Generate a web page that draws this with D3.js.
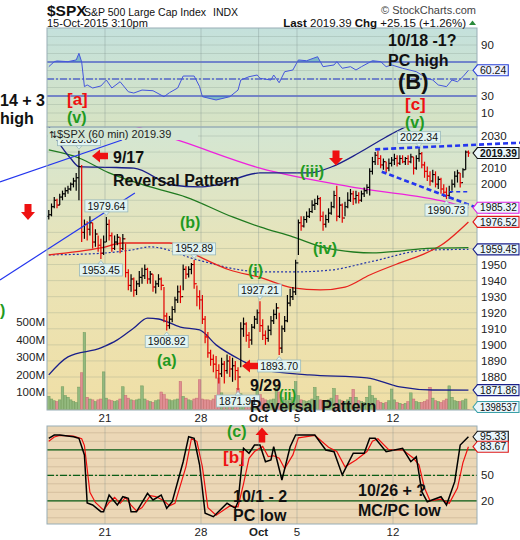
<!DOCTYPE html>
<html><head><meta charset="utf-8">
<script src="https://cdn.jsdelivr.net/npm/d3@7"></script>
<style>body{margin:0;background:#fff}svg{display:block;font-family:"Liberation Sans",Arial,sans-serif}</style>
</head><body><svg id="c" width="520" height="540"></svg>
<script>
// ---------------- DATA ----------------
// 60-min bars, 16-Sep-2015 .. 15-Oct-2015 (7 bars per day, 22 days)
const highs = [
 1984,1988,1992,1991,1994,1996,1998,
 1999,2001,2004,2007,2020.86,2012,1978,
 1977,1980,1976,1972,1968,1966,1968,
 1979.64,1978,1970,1968,1969,1967,1969,
 1963,1947,1944,1942,1940,1946,1948,
 1950,1948,1946,1944,1940,1944,1942,
 1936,1920,1918,1924,1930,1937,1937,
 1950,1949,1949,1951,1952.89,1937,1934,
 1931,1918,1908,1897,1894,1893,1888,
 1892,1890,1894,1893,1892,1890,1886,
 1914,1917,1914,1908,1913,1918,1922,
 1927.21,1916,1909,1912,1918,1922,1926,
 1920,1912,1918,1931,1935,1936,1953,
 1978,1980,1980,1983,1985,1990,1991,
 1993,1992,1983,1981,1985,1989,1996,
 1999,1992,1988,1989,1995,1997,1996,
 1996,1995,1996,1998,2000,2010,2017,
 2020,2021,2018,2016,2014,2016,2017,
 2019,2018,2018,2018,2017,2018,2019,
 2017,2018,2022.34,2020,2014,2011,2008,
 2009,2008,2005,2004,2000,1998,1999,
 2003,2008,2009,2007,2010,2021,2021];
const lows = [
 1978,1980,1985,1985,1987,1990,1992,
 1994,1996,1998,1996,1990,1964,1966,
 1965,1968,1960,1961,1958,1953.45,1956,
 1964,1965,1958,1959,1962,1957,1959,
 1942,1934,1933,1930,1931,1936,1938,
 1941,1938,1938,1933,1932,1936,1934,
 1914,1908.92,1910,1914,1920,1926,1926,
 1934,1941,1942,1944,1935,1924,1922,
 1913,1901,1892,1887,1883,1879,1876,
 1880,1876,1882,1880,1877,1878,1871.91,
 1886,1905,1902,1898,1900,1910,1913,
 1908,1903,1900,1902,1906,1913,1916,
 1893.70,1895,1908,1914,1924,1928,1931,
 1956,1971,1973,1976,1979,1982,1984,
 1987,1977,1971,1973,1976,1981,1985,
 1977,1979,1976,1980,1985,1989,1987,
 1988,1988,1989,1992,1994,1993,2006,
 2012,2012,2010,2009,2007,2008,2011,
 2012,2011,2012,2013,2012,2012,2013,
 2006,2009,2014,2010,2004,2002,1999,
 2001,1998,1997,1994,1992,1990.73,1991,
 1996,1998,2001,1998,2004,2009,2017];
const closes = [
 1981,1986,1990,1987,1992,1994,1996,
 1997,2000,2002,2004,2011,1970,1975,
 1972,1976,1964,1969,1962,1957,1964,
 1975,1968,1960,1964,1967,1960,1966,
 1945,1937,1941,1934,1938,1942,1943,
 1947,1941,1944,1936,1938,1941,1937,
 1918,1912,1916,1922,1928,1933,1930,
 1947,1944,1947,1950,1938,1930,1928,
 1916,1905,1895,1891,1888,1884,1882,
 1888,1884,1890,1885,1887,1884,1880,
 1910,1913,1906,1903,1911,1916,1920,
 1912,1906,1904,1909,1915,1919,1923,
 1898,1910,1915,1926,1930,1933,1951,
 1976,1974,1978,1980,1983,1987,1988,
 1991,1980,1975,1978,1982,1986,1993,
 1980,1987,1979,1986,1990,1994,1991,
 1993,1990,1994,1996,1998,2008,2014,
 2018,2016,2012,2014,2010,2013,2015,
 2016,2013,2016,2014,2016,2014,2017,
 2010,2016,2019,2012,2008,2005,2002,
 2006,2000,2003,1997,1995,1993,1995,
 2000,2005,2007,2001,2009,2020,2019.39];
const firstOpen = 1980;
// volume, millions of shares
const volumes = [
 75,60,50,45,55,130,80,
 70,55,45,40,128,210,440,
 70,60,55,45,55,60,215,
 65,55,50,45,50,60,130,
 80,65,55,50,55,60,135,
 60,50,45,40,50,55,100,
 85,60,55,50,55,60,160,
 75,65,55,50,60,65,170,
 60,55,55,50,60,80,180,
 95,70,60,55,60,70,120,
 90,60,50,45,50,60,140,
 85,65,55,50,55,60,135,
 100,70,55,50,60,70,159,
 80,55,50,45,50,60,126,
 75,55,50,45,55,65,120,
 80,55,50,45,55,70,115,
 70,50,45,40,70,134,80,
 65,50,40,35,40,50,117,
 55,40,35,30,35,45,95,
 60,45,40,40,45,55,127,
 65,50,45,40,50,60,135,
 70,50,45,45,50,60,1.4];
// indicator readings [barIndex, value]
const bbUpper  = [[0,2036],[4,2025],[8,2016],[11,2011],[22,2010.5],[31,2010],[45,1999.5],[55,1998.3],[61,1999.5],[77,2007],[95,2007],[103,2010.7],[113,2019.4],[123,2029.4],[130,2035.6],[142,2043],[153,2047]];
const bbMiddle = [[0,1956],[19,1957],[30,1959],[37,1961],[54,1953],[70,1946.6],[77,1945.4],[89,1945.4],[103,1946.6],[117,1951.6],[138,1959],[153,1959.45]];
const bbLower  = [[0,1881.3],[7,1892.5],[19,1898.1],[25,1903.1],[31,1910.5],[36,1916.7],[40,1916.1],[48,1911.1],[55,1909.3],[61,1900],[70,1890.6],[78,1884.4],[95,1881.3],[116,1879.4],[128,1873.8],[140,1871.9],[153,1871.86]];
const maGreen  = [[0,2021.3],[11,2016.3],[22,2007],[37,1998.3],[50,1992],[67,1979.6],[77,1973.4],[89,1967.2],[101,1960.3],[111,1957.8],[118,1957.2],[128,1958.4],[138,1960],[153,1960.5]];
const maRed    = [[0,1956],[19,1960.3],[27,1963.4],[44,1963.4],[52,1957.2],[66,1946.6],[77,1942],[89,1935.5],[99,1934.2],[108,1936],[117,1943.5],[128,1951],[136,1956],[143,1962],[153,1976.52]];
const maPink   = [[30,2037],[49,2026.3],[77,2010],[113,1997.6],[145,1989],[153,1985.32]];
const rsi = [[0,64.5],[2,70.4],[3,71.2],[7,70.4],[10,72.4],[11,80.2],[12,70],[13,41],[14,43],[16,39.4],[19,41.8],[21,48.8],[23,39.4],[26,46.8],[29,35],[31,33.5],[34,37],[38,36.2],[42,29.2],[44,33.9],[47,39.4],[49,53.5],[53,53.5],[55,41],[56,29.2],[61,25.3],[66,29.2],[69,37],[70,48.8],[73,52.7],[76,54.7],[77,50.8],[81,48.8],[82,54.7],[84,45.6],[86,58.6],[89,60.6],[91,72.4],[94,71.5],[98,76.2],[100,64.5],[104,66.5],[105,70.4],[107,62.6],[110,64.5],[112,60.6],[114,64.5],[118,71.5],[121,70.4],[123,64.5],[125,66.5],[129,62.6],[134,58.6],[138,50.8],[140,48.8],[142,43],[145,41],[147,48.8],[149,46.8],[151,52.7],[153,60.24]];
const stochK = [[0,93.5],[2,97.4],[4,97.4],[9,95.4],[11,93.5],[13,73.9],[14,17.4],[16,15.1],[19,7.2],[20,7.2],[22,26.8],[25,15.1],[27,24.8],[29,22.9],[30,7.2],[32,7.2],[36,28.8],[38,21],[41,26.8],[43,11.2],[45,18.9],[49,66],[51,95.4],[53,93.5],[55,62.1],[57,5.3],[60,1.3],[65,17.1],[68,11.2],[69,18.9],[71,81.8],[73,75.9],[75,85.6],[77,85.6],[79,66],[81,68],[82,83.6],[85,44.5],[88,83.6],[90,97.4],[97,97.4],[101,79.8],[104,77.8],[107,50.4],[111,75.9],[115,75.9],[117,93.5],[119,93.5],[123,77.8],[129,81.8],[132,66],[134,71.9],[136,30.7],[138,18.9],[143,24.8],[145,15.1],[148,42.5],[150,85.6],[153,95.33]];
const stochD = [[0,90],[2,95],[4,97],[9,96],[12,93],[13,85],[15,30],[17,18],[20,9],[22,18],[24,24],[26,17],[28,24],[30,15],[32,8],[34,12],[37,26],[39,25],[42,20],[44,14],[46,17],[50,60],[52,93],[54,90],[56,60],[58,12],[61,3],[66,14],[69,13],[71,40],[73,70],[75,78],[78,84],[80,72],[82,73],[84,70],[86,58],[89,74],[91,94],[97,97],[102,83],[105,78],[108,60],[112,68],[116,78],[118,90],[120,93],[124,80],[129,80],[133,70],[135,62],[137,35],[139,20],[143,22],[146,17],[149,35],[151,65],[153,83.67]];
const priceTicks = [1880,1890,1900,1910,1920,1930,1940,1950,1960,1970,1980,1990,2000,2010,2020,2030];
const volTicks = [100,200,300,400,500];
const rsiTicks = [10,30,50,70,90];
const stochTicks = [20,50,80];
const dateTicks = [{label:'21',day:3},{label:'28',day:8},{label:'Oct',day:11,bold:true},{label:'5',day:13},{label:'12',day:18}];
const peakLabels = [
 {i:11,v:2020.86,t:'h'},{i:21,v:1979.64,t:'h'},{i:19,v:1953.45,t:'l'},{i:53,v:1952.89,t:'h'},
 {i:43,v:1908.92,t:'l'},{i:69,v:1871.91,t:'l'},{i:77,v:1927.21,t:'h'},{i:84,v:1893.70,t:'l'},
 {i:135,v:2022.34,t:'h'},{i:145,v:1990.73,t:'l'}];

// ---------------- LAYOUT ----------------
const svg = d3.select('#c');
const defs = svg.append('defs');
const PX0=47, PX1=477;
const P1={y0:28,y1:127}, P2={y0:127,y1:410}, P3={y0:426,y1:524};
const x = d3.scaleLinear().domain([-0.5,153.5]).range([47.4,469.8]);
const yP = d3.scaleLinear().domain([1880,2030]).range([377,136]);
const yV = d3.scaleLinear().domain([0,500]).range([409.5,322]);
const yR = d3.scaleLinear().domain([0,100]).range([121.5,36.5]);
const yS = d3.scaleLinear().domain([0,100]).range([517.8,432.8]);

function vgrad(id,stops){const g=defs.append('linearGradient').attr('id',id).attr('x1',0).attr('y1',0).attr('x2',0).attr('y2',1);stops.forEach(s=>g.append('stop').attr('offset',s[0]).attr('stop-color',s[1]));}
vgrad('gR',[[0,'#c4e1dc'],[1,'#d7e3c3']]);
vgrad('gP',[[0,'#d3e6d3'],[0.45,'#e9e4b8'],[1,'#f0dfa6']]);
function clip(id,p,x0=PX0,x1=PX1){defs.append('clipPath').attr('id',id).append('rect').attr('x',x0).attr('y',p.y0).attr('width',x1-x0).attr('height',p.y1-p.y0);}
clip('c1',P1);clip('c2',P2);clip('c3',P3);
defs.append('clipPath').attr('id','rsiHi').append('rect').attr('x',PX0).attr('y',P1.y0).attr('width',PX1-PX0).attr('height',yR(70)-P1.y0);
defs.append('clipPath').attr('id','rsiLo').append('rect').attr('x',PX0).attr('y',yR(30)).attr('width',PX1-PX0).attr('height',P1.y1-yR(30));

svg.append('rect').attr('x',PX0).attr('y',P1.y0).attr('width',PX1-PX0).attr('height',P1.y1-P1.y0).attr('fill','url(#gR)');
svg.append('rect').attr('x',PX0).attr('y',P2.y0).attr('width',PX1-PX0).attr('height',P2.y1-P2.y0).attr('fill','url(#gP)');
svg.append('rect').attr('x',PX0).attr('y',P3.y0).attr('width',PX1-PX0).attr('height',P3.y1-P3.y0).attr('fill','#ebd7b6');

const gridC='rgba(110,130,120,0.22)';
const g1=svg.append('g').attr('clip-path','url(#c1)');
d3.range(0,101,10).forEach(v=>g1.append('line').attr('x1',PX0).attr('x2',PX1).attr('y1',yR(v)).attr('y2',yR(v)).attr('stroke',gridC));
const g2=svg.append('g').attr('clip-path','url(#c2)');
d3.range(1870,2041,10).forEach(v=>g2.append('line').attr('x1',PX0).attr('x2',PX1).attr('y1',yP(v)).attr('y2',yP(v)).attr('stroke',gridC));
const g3=svg.append('g').attr('clip-path','url(#c3)');
d3.range(-10,111,10).forEach(v=>g3.append('line').attr('x1',PX0).attr('x2',PX1).attr('y1',yS(v)).attr('y2',yS(v)).attr('stroke','rgba(150,120,90,0.25)'));
[P1,P2,P3].forEach(p=>dateTicks.forEach(d=>{const xx=x(d.day*7-0.5);svg.append('line').attr('x1',xx).attr('x2',xx).attr('y1',p.y0).attr('y2',p.y1).attr('stroke','rgba(120,140,140,0.35)');}));

// ---------------- RSI panel ----------------
const rsiLine=d3.line().x(d=>x(d[0])).y(d=>yR(d[1]));
g1.append('path').datum(rsi).attr('clip-path','url(#rsiHi)').attr('d',d3.area().x(d=>x(d[0])).y0(yR(70)).y1(d=>yR(d[1]))).attr('fill','#6aaec0').attr('opacity',0.8);
g1.append('path').datum(rsi).attr('clip-path','url(#rsiLo)').attr('d',d3.area().x(d=>x(d[0])).y0(yR(30)).y1(d=>yR(d[1]))).attr('fill','#6aaec0').attr('opacity',0.8);
[70,30].forEach(v=>g1.append('line').attr('x1',PX0).attr('x2',PX1).attr('y1',yR(v)).attr('y2',yR(v)).attr('stroke','#2233cc').attr('stroke-width',1.2));
g1.append('line').attr('x1',PX0).attr('x2',PX1).attr('y1',yR(50)).attr('y2',yR(50)).attr('stroke','#2233cc').attr('stroke-dasharray','7,2,2,2');
g1.append('path').datum(rsi).attr('d',rsiLine).attr('fill','none').attr('stroke','#4455dd').attr('stroke-width',1);

// ---------------- Price panel ----------------
const bars = closes.map((c,i)=>({i,h:highs[i],l:lows[i],c,o:i?closes[i-1]:firstOpen,v:volumes[i]}));
g2.selectAll('rect.vol').data(bars).join('rect').attr('class','vol')
 .attr('x',d=>x(d.i)-1.3).attr('width',2.6).attr('y',d=>yV(d.v)).attr('height',d=>yV(0)-yV(d.v))
 .attr('fill',d=>d.c>=d.o?'#93b97e':'#df8f93').attr('stroke',d=>d.c>=d.o?'#6f9a5c':'#c56a70').attr('stroke-width',0.5);
const mline=d3.line().x(d=>x(d[0])).y(d=>yP(d[1])).curve(d3.curveMonotoneX);
g2.append('path').datum(bbMiddle).attr('d',mline).attr('fill','none').attr('stroke','#2233aa').attr('stroke-width',1.2).attr('stroke-dasharray','2,2');
g2.append('path').datum(maRed).attr('d',mline).attr('fill','none').attr('stroke','#e8231e').attr('stroke-width',1.3);
g2.append('path').datum(maGreen).attr('d',mline).attr('fill','none').attr('stroke','#1f7a1f').attr('stroke-width',1.3);
g2.append('path').datum(maPink).attr('d',mline).attr('fill','none').attr('stroke','#ee22dd').attr('stroke-width',1.3);
g2.append('path').datum(bbUpper).attr('d',mline).attr('fill','none').attr('stroke','#1a1f8a').attr('stroke-width',1.3);
g2.append('path').datum(bbLower).attr('d',mline).attr('fill','none').attr('stroke','#1a1f8a').attr('stroke-width',1.3);
const col=d=>d.c<d.o?'#e30000':'#000';
const bg=g2.append('g');
bg.selectAll('line.hl').data(bars).join('line').attr('x1',d=>x(d.i)).attr('x2',d=>x(d.i)).attr('y1',d=>yP(d.h)).attr('y2',d=>yP(d.l)).attr('stroke',col).attr('stroke-width',1.2);
bg.selectAll('line.op').data(bars).join('line').attr('x1',d=>x(d.i)-1.7).attr('x2',d=>x(d.i)).attr('y1',d=>yP(d.o)).attr('y2',d=>yP(d.o)).attr('stroke',col).attr('stroke-width',1.1);
bg.selectAll('line.cl').data(bars).join('line').attr('x1',d=>x(d.i)).attr('x2',d=>x(d.i)+1.7).attr('y1',d=>yP(d.c)).attr('y2',d=>yP(d.c)).attr('stroke',col).attr('stroke-width',1.1);

const trend=(a,b,w,dash)=>svg.append('line').attr('x1',x(a[0])).attr('y1',yP(a[1])).attr('x2',x(b[0])).attr('y2',yP(b[1])).attr('stroke','#2436ee').attr('stroke-width',w).attr('stroke-dasharray',dash||null);
trend([-17.8,2001.4],[26.7,2027.5],1.2);
trend([-17.8,1940.4],[31.4,1994.5],1.2);
trend([119,2021.7],[171.8,2025.8],2.6,'5,3');
trend([121.4,2007.8],[160.9,1982.2],2.6,'5,3');
trend([146,1995.3],[153,1995.3],1.3,'4,3');

function box(g,cx,cy,txt){
  const t=g.append('text').attr('x',cx).attr('y',cy+3.6).attr('text-anchor','middle').attr('font-size',10.5).attr('fill','#111').text(txt);
  const w=t.node().getComputedTextLength()+5;
  g.insert('rect','text').attr('x',cx-w/2).attr('y',cy-6).attr('width',w).attr('height',12).attr('fill','#e2f4f2').attr('stroke','#9ab9bb').attr('stroke-width',0.8);
}
const lg=svg.append('g');
peakLabels.forEach(p=>{
  const cx=x(p.i), yy=yP(p.v);
  if(p.t==='h'){ lg.append('path').attr('d',`M${cx-3},${yy-5}L${cx},${yy-1.5}L${cx+3},${yy-5}Z`).attr('fill','#e2f4f2').attr('stroke','#9ab9bb').attr('stroke-width',0.8);
    box(lg,cx,yy-11,p.v.toFixed(2)); }
  else { lg.append('path').attr('d',`M${cx-3},${yy+5}L${cx},${yy+1.5}L${cx+3},${yy+5}Z`).attr('fill','#e2f4f2').attr('stroke','#9ab9bb').attr('stroke-width',0.8);
    box(lg,cx,yy+11,p.v.toFixed(2)); }
});

// legend in price panel (covers upper part of the 2020.86 box, as in the source)
svg.append('rect').attr('x',48).attr('y',128).attr('width',150).attr('height',12).attr('fill','#d3e6d3');
svg.append('text').attr('x',49).attr('y',138).attr('font-size',10).attr('fill','#222').text('⇅');
svg.append('text').attr('x',57).attr('y',138).attr('font-size',11).attr('fill','#222').text('$SPX (60 min) 2019.39');

// ---------------- Lower panel ----------------
[80,20].forEach(v=>g3.append('line').attr('x1',PX0).attr('x2',PX1).attr('y1',yS(v)).attr('y2',yS(v)).attr('stroke','#0b5e17').attr('stroke-width',1.3));
g3.append('line').attr('x1',PX0).attr('x2',PX1).attr('y1',yS(50)).attr('y2',yS(50)).attr('stroke','#0b5e17').attr('stroke-width',1.2).attr('stroke-dasharray','7,2,2,2');
const sline=d3.line().x(d=>x(d[0])).y(d=>yS(d[1]));
g3.append('path').datum(stochD).attr('d',sline).attr('fill','none').attr('stroke','#f01010').attr('stroke-width',1.2);
g3.append('path').datum(stochK).attr('d',sline).attr('fill','none').attr('stroke','#000').attr('stroke-width',1.5);

[P1,P2,P3].forEach(p=>svg.append('rect').attr('x',PX0).attr('y',p.y0).attr('width',PX1-PX0).attr('height',p.y1-p.y0).attr('fill','none').attr('stroke','#98adb6').attr('stroke-width',1));

// ---------------- Axes & value labels ----------------
const valueLabels = [
 {y:yR(60.24),t:'60.24',s:'#2a40d8',f:'#eef2fd'},
 {y:yP(2019.39),t:'2019.39',s:'#111',b:true},
 {y:yP(1985.32),t:'1985.32',s:'#e01ee0'},
 {y:yP(1976.52),t:'1976.52',s:'#e01818'},
 {y:yP(1959.45),t:'1959.45',s:'#1a1f8a'},
 {y:yP(1871.86),t:'1871.86',s:'#1a1f8a'},
 {y:407,t:'1398537',s:'#3aa0a8'},
 {y:yS(95.33),t:'95.33',s:'#111'},
 {y:yS(83.67),t:'83.67',s:'#e01818'}];
const hidden=yy=>valueLabels.some(l=>Math.abs(l.y-yy)<11);
const axT=(xx,yy,t,anchor,fs,bold)=>svg.append('text').attr('x',xx).attr('y',yy).attr('text-anchor',anchor||'start').attr('font-size',fs||11.5).attr('font-weight',bold?'bold':null).attr('fill','#222').text(t);
priceTicks.forEach(v=>{if(!hidden(yP(v)))axT(481,yP(v)+4,v);});
rsiTicks.forEach(v=>{if(!hidden(yR(v)))axT(481,yR(v)+4,v);});
stochTicks.forEach(v=>{if(!hidden(yS(v)))axT(481,yS(v)+4,v);});
volTicks.forEach(v=>axT(45,yV(v)+4,v+'M','end'));
dateTicks.forEach(d=>{const xx=x(d.day*7-0.5);axT(xx,422,d.label,'middle',11.5,d.bold);axT(xx,536,d.label,'middle',11.5,d.bold);});

valueLabels.forEach(l=>{
  const g=svg.append('g');
  const t=g.append('text').attr('x',480).attr('y',l.y+3.7).attr('font-size',10.5).attr('font-weight',l.b?'bold':null).attr('fill','#111').text(l.t);
  const w=Math.min(t.node().getComputedTextLength()+4,41);
  t.attr('textLength',w-4).attr('lengthAdjust','spacingAndGlyphs');
  g.insert('path','text').attr('d',`M473,${l.y}L477.5,${l.y-5.5}L${478+w},${l.y-5.5}L${478+w},${l.y+5.5}L477.5,${l.y+5.5}Z`).attr('fill',l.f||'#eaf6fb').attr('stroke',l.s).attr('stroke-width',1.1);
});

// ---------------- Header ----------------
svg.append('text').attr('x',47).attr('y',16).attr('font-size',15.5).attr('font-weight','bold').attr('fill','#111').text('$SPX');
svg.append('text').attr('x',84).attr('y',16).attr('font-size',11.5).attr('fill','#111').attr('textLength',122).attr('lengthAdjust','spacingAndGlyphs').text('S&P 500 Large Cap Index');
svg.append('text').attr('x',213).attr('y',16).attr('font-size',10.5).attr('fill','#111').text('INDX');
svg.append('text').attr('x',47).attr('y',27).attr('font-size',11).attr('fill','#111').text('15-Oct-2015 3:10pm');
svg.append('text').attr('x',476).attr('y',14).attr('text-anchor','end').attr('font-size',11).attr('fill','#444').text('© StockCharts.com');
const lt=svg.append('text').attr('x',466).attr('y',27).attr('text-anchor','end').attr('font-size',11.5).attr('fill','#111');
lt.append('tspan').attr('font-weight','bold').text('Last');
lt.append('tspan').text(' 2019.39  ');
lt.append('tspan').attr('font-weight','bold').text('Chg');
lt.append('tspan').text(' +25.15 (+1.26%)');
svg.append('path').attr('d','M469,25L472.5,20.5L476,25Z').attr('fill','#2a8a3a');

// ---------------- Annotations ----------------
const ann=(xx,yy,t,color,fs,anchor)=>svg.append('text').attr('x',xx).attr('y',yy).attr('font-size',fs||16).attr('font-weight','bold').attr('fill',color||'#111').attr('text-anchor',anchor||'start').text(t);
const RED='#ee1111', GRN='#1f9a22';
ann(0,106,'14 + 3');
ann(0,124,'high');
ann(67,105,'[a]',RED,17);
ann(67,123,'(v)',GRN,16);
ann(113,163,'9/17');
ann(113,186,'Reversal Pattern');
ann(180,228,'(b)',GRN);
ann(157,366,'(a)',GRN);
ann(248,276,'(i)',GRN);
ann(300,177,'(iii)',GRN);
ann(313,254,'(iv)',GRN);
ann(279,400,'(ii)',GRN,14);
ann(250,391,'9/29');
ann(250,412,'Reversal Pattern');
ann(0,316,')',GRN);
ann(388,46,'10/18 -1?');
ann(388,66,'PC high');
ann(398,89,'(B)','#111',22);
ann(405,110,'[c]',RED,17);
ann(405,128,'(v)',GRN,16);
ann(227,437,'(c)',GRN);
ann(223,463,'[b]',RED,17);
ann(233,502,'10/1 - 2');
ann(233,521,'PC  low');
ann(358,496,'10/26 + ?');
ann(358,516,'MC/PC  low');

function arrow(cx,cy,dir,len,wid){
  const h=len/2, s=wid/2, hl=len*0.5;
  const pts=[[-h,-s*0.5],[h-hl,-s*0.5],[h-hl,-s],[h,0],[h-hl,s],[h-hl,s*0.5],[-h,s*0.5]];
  const ang={right:0,down:90,left:180,up:-90}[dir];
  svg.append('path').attr('d','M'+pts.map(p=>p.join(',')).join('L')+'Z').attr('fill','#ee1111').attr('transform',`translate(${cx},${cy}) rotate(${ang})`);
}
arrow(28,212,'down',16,14);
arrow(100,156,'left',16,13);
arrow(336,158,'down',15,14);
arrow(250,366,'left',16,13);
arrow(262,435,'up',15,13);
</script></body></html>
